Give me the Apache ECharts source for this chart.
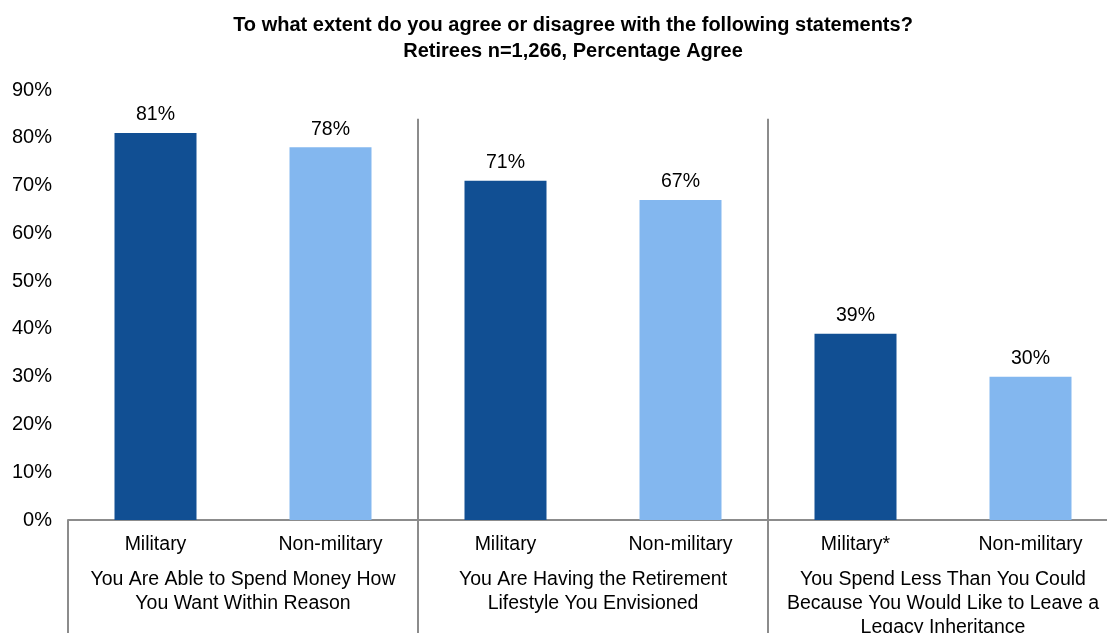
<!DOCTYPE html>
<html>
<head>
<meta charset="utf-8">
<script src="https://cdn.jsdelivr.net/npm/echarts@6/dist/echarts.min.js"></script>
<style>html,body{margin:0;padding:0;background:#fff;overflow:hidden}#c{width:1118px;height:633px}</style>
</head>
<body>
<div id="c"></div>
<script>
var categories = ['Military', 'Non-military', 'Military', 'Non-military', 'Military*', 'Non-military'];
var groups = ['You Are Able to Spend Money How\nYou Want Within Reason',
              'You Are Having the Retirement\nLifestyle You Envisioned',
              'You Spend Less Than You Could\nBecause You Would Like to Leave a\nLegacy Inheritance'];
var values = [81, 78, 71, 67, 39, 30];
var yTicks = [0, 10, 20, 30, 40, 50, 60, 70, 80, 90];
var titleLines = ['To what extent do you agree or disagree with the following statements?',
                  'Retirees n=1,266, Percentage Agree'];

var DARK = '#114F93', LIGHT = '#83B7EF', GRAY = '#8C8C8C';
var FONT = '"Liberation Sans", Arial, sans-serif';

var chart = echarts.init(document.getElementById('c'));
chart.setOption({
  animation: false,
  backgroundColor: '#fff',
  title: {
    text: titleLines.join('\n'),
    left: 568, top: 7, textAlign: 'center',
    textStyle: { fontFamily: FONT, fontWeight: 'bold', fontSize: 20, lineHeight: 26, color: '#000' }
  },
  grid: { left: 68, right: 0, top: 90, bottom: 113, containLabel: false, outerBoundsMode: 'none' },
  xAxis: [{
    type: 'category', data: categories, position: 'bottom',
    axisLine: { show: true, lineStyle: { color: GRAY, width: 2 } },
    axisTick: { show: false },
    axisLabel: { interval: 0, margin: 15, fontFamily: FONT, fontSize: 19.5, lineHeight: 20, color: '#000' }
  }, {
    type: 'category', data: groups, position: 'bottom',
    axisLine: { show: false },
    axisTick: { show: true, interval: 0, length: 113, lineStyle: { color: GRAY, width: 2 } },
    axisLabel: { interval: 0, margin: 48, fontFamily: FONT, fontSize: 19.5, lineHeight: 24, color: '#000' }
  }],
  yAxis: {
    type: 'value', min: yTicks[0], max: yTicks[yTicks.length - 1], interval: yTicks[1] - yTicks[0],
    axisLine: { show: false }, axisTick: { show: false }, splitLine: { show: false },
    axisLabel: { formatter: '{value}%', margin: 16, fontFamily: FONT, fontSize: 20, color: '#000' }
  },
  series: [{
    type: 'bar', xAxisIndex: 0, data: values, barWidth: 82,
    itemStyle: { color: function (p) { return p.dataIndex % 2 === 0 ? DARK : LIGHT; } },
    label: { show: true, position: 'top', distance: 8, formatter: '{c}%',
             fontFamily: FONT, fontSize: 19.5, color: '#000' }
  }]
});

// group separator lines in the plot area, positioned via the chart's scales
var sepTop = chart.convertToPixel({ yAxisIndex: 0 }, 84);
var sepBottom = chart.convertToPixel({ yAxisIndex: 0 }, 0);
var elems = [];
for (var g = 1; g < groups.length; g++) {
  var a = chart.convertToPixel({ xAxisIndex: 0 }, g * 2 - 1);
  var b = chart.convertToPixel({ xAxisIndex: 0 }, g * 2);
  var x = (a + b) / 2;
  elems.push({ type: 'line', shape: { x1: x, y1: sepTop, x2: x, y2: sepBottom },
               style: { stroke: GRAY, lineWidth: 2 }, z: 10 });
}
chart.setOption({ graphic: elems });
</script>
</body>
</html>
